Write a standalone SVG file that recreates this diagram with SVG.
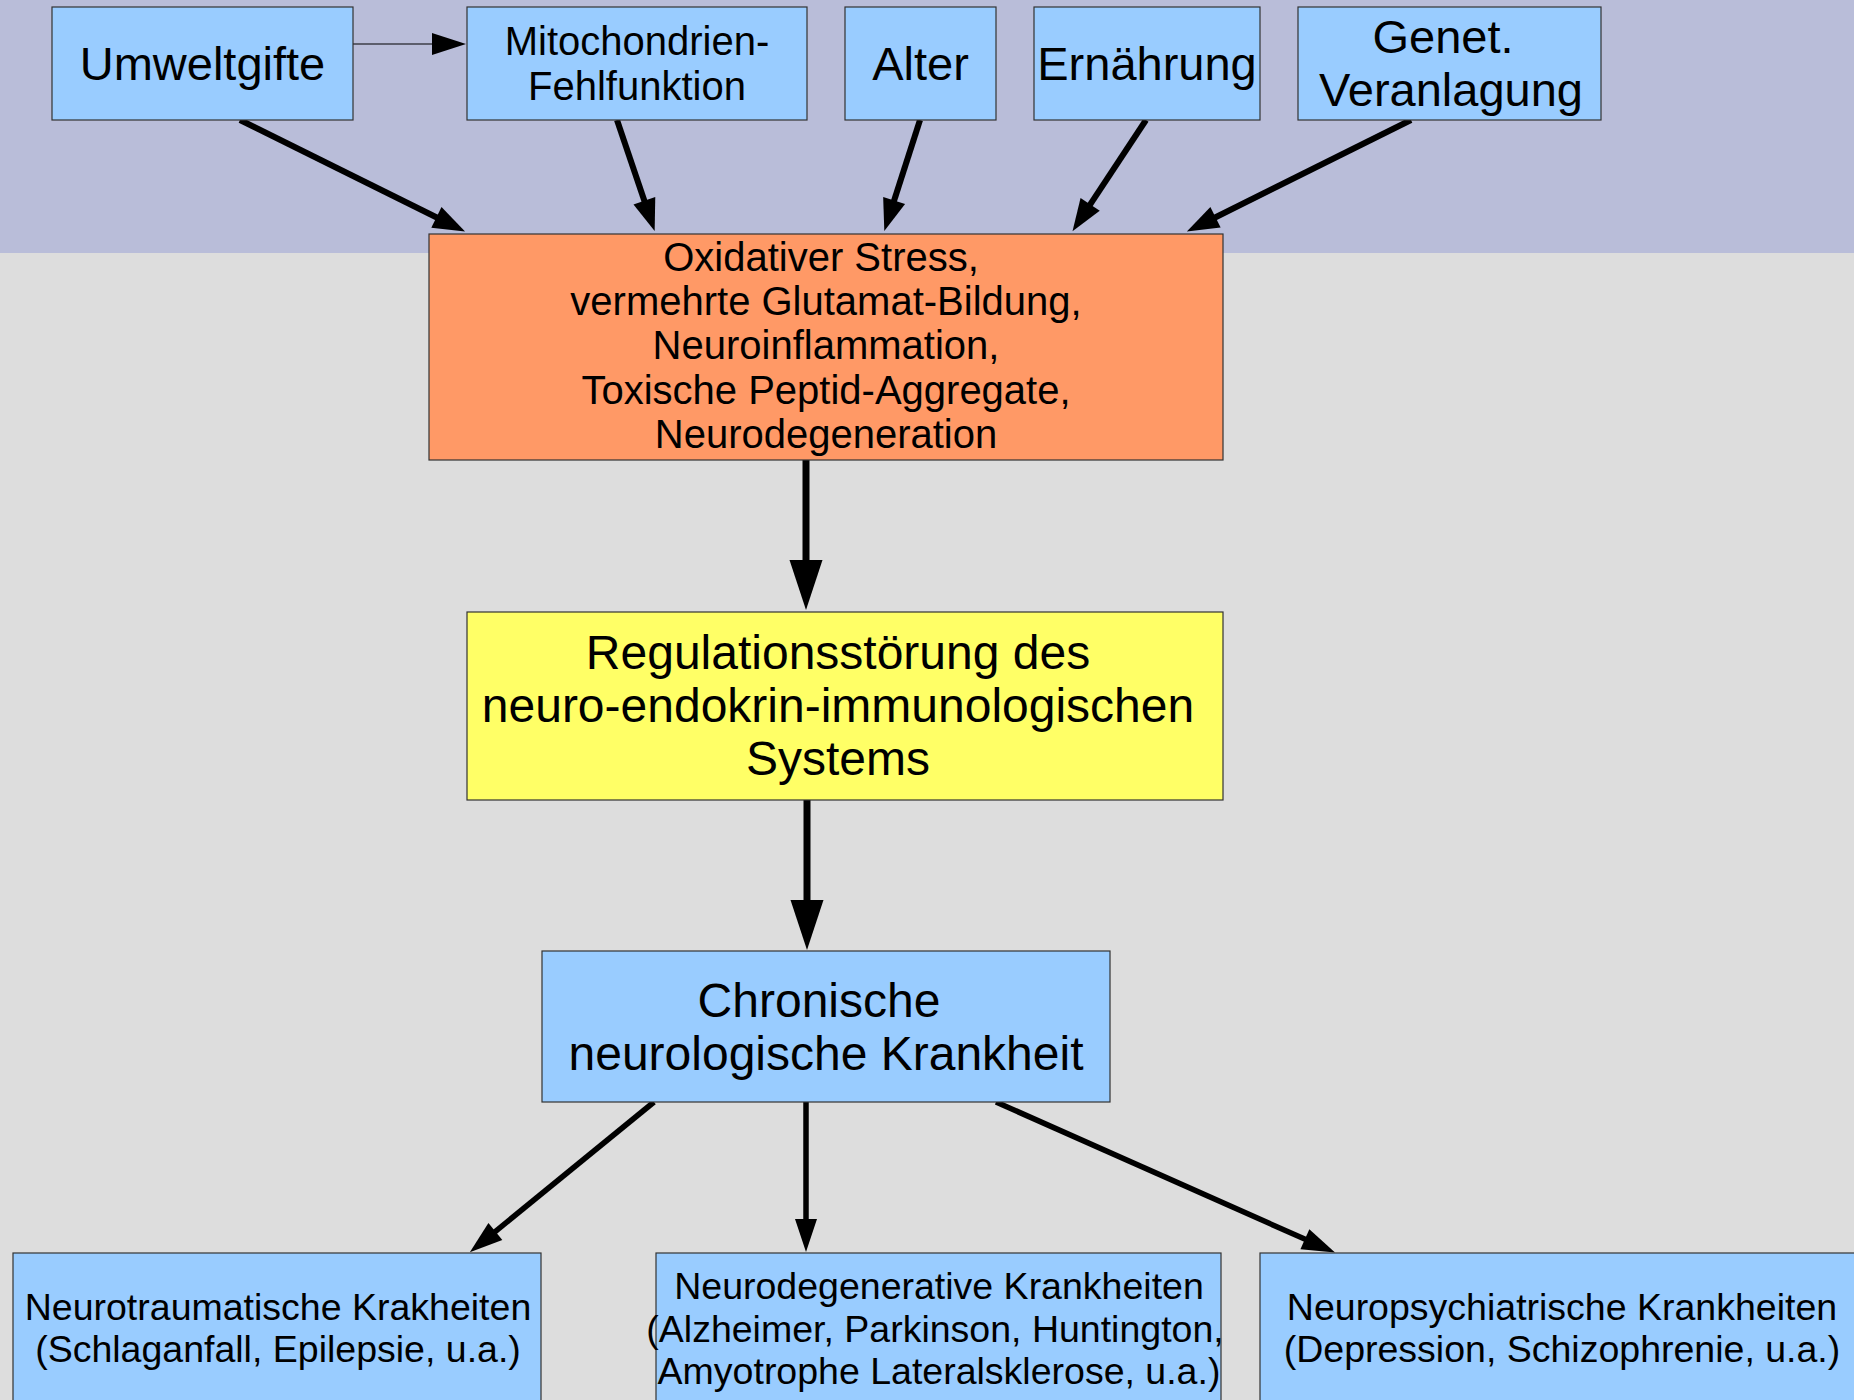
<svg xmlns="http://www.w3.org/2000/svg" width="1854" height="1400" viewBox="0 0 1854 1400">
<style>
.box{stroke:#333;stroke-width:1.2}
.blue{fill:#99ccff}
.orange{fill:#ff9966}
.yellow{fill:#ffff66}
text{font-family:"Liberation Sans",Arial,sans-serif;fill:#000;text-anchor:middle}
.conn{stroke:#000;fill:none}
</style>
<defs>
<marker id="mTop" markerUnits="userSpaceOnUse" markerWidth="34" markerHeight="24" refX="1" refY="11.5" orient="auto" overflow="visible"><path d="M0,0 L32,11.5 L0,23 z" fill="#000"/></marker>
<marker id="mBig" markerUnits="userSpaceOnUse" markerWidth="52" markerHeight="34" refX="1" refY="16.5" orient="auto" overflow="visible"><path d="M0,0 L50,16.5 L0,33 z" fill="#000"/></marker>
<marker id="mBot" markerUnits="userSpaceOnUse" markerWidth="35" markerHeight="23" refX="1" refY="11" orient="auto" overflow="visible"><path d="M0,0 L33,11 L0,22 z" fill="#000"/></marker>
<marker id="mThin" markerUnits="userSpaceOnUse" markerWidth="36" markerHeight="23" refX="1" refY="11" orient="auto" overflow="visible"><path d="M0,0 L34,11 L0,22 z" fill="#000"/></marker>
</defs>
<rect x="0" y="0" width="1854" height="1400" fill="#dddddd"/>
<rect x="0" y="0" width="1854" height="253" fill="#b9bdd9"/>

<g id="connectors">
<path class="conn" d="M353,44 L433,44" stroke="#333" stroke-width="1.2" marker-end="url(#mThin)"/>
<path class="conn" d="M240,120 L437.3,217.8" stroke-width="6" marker-end="url(#mTop)"/>
<path class="conn" d="M617,120 L644.7,201.7" stroke-width="6" marker-end="url(#mTop)"/>
<path class="conn" d="M920,120 L893.8,201.5" stroke-width="6" marker-end="url(#mTop)"/>
<path class="conn" d="M1146,120 L1089.6,205.3" stroke-width="6" marker-end="url(#mTop)"/>
<path class="conn" d="M1411,120 L1214.6,217.7" stroke-width="6" marker-end="url(#mTop)"/>
<path class="conn" d="M806,460 L806,561" stroke-width="7" marker-end="url(#mBig)"/>
<path class="conn" d="M807,800 L807,901" stroke-width="7" marker-end="url(#mBig)"/>
<path class="conn" d="M654,1102 L494.6,1232.1" stroke-width="5.5" marker-end="url(#mBot)"/>
<path class="conn" d="M806,1102 L806,1220" stroke-width="5.5" marker-end="url(#mBot)"/>
<path class="conn" d="M996,1102 L1305.8,1239.6" stroke-width="5.5" marker-end="url(#mBot)"/>
</g>

<g id="umweltgifte">
<rect class="box blue" x="52" y="7" width="301" height="113"/>
<text x="202.5" y="80" font-size="47">Umweltgifte</text>
</g>
<g id="mitochondrien">
<rect class="box blue" x="467" y="7" width="340" height="113"/>
<text font-size="40"><tspan x="637" y="55">Mitochondrien-</tspan><tspan x="637" y="100">Fehlfunktion</tspan></text>
</g>
<g id="alter">
<rect class="box blue" x="845" y="7" width="151" height="113"/>
<text x="920.5" y="80" font-size="47">Alter</text>
</g>
<g id="ernaehrung">
<rect class="box blue" x="1034" y="7" width="226" height="113"/>
<text x="1147" y="80" font-size="47">Ernährung</text>
</g>
<g id="genet">
<rect class="box blue" x="1298" y="7" width="303" height="113"/>
<text font-size="47"><tspan x="1443" y="53">Genet.</tspan><tspan x="1451" y="106">Veranlagung</tspan></text>
</g>

<g id="stress">
<rect class="box orange" x="429" y="234" width="794" height="226"/>
<text font-size="40"><tspan x="821" y="271">Oxidativer Stress,</tspan><tspan x="826" y="315">vermehrte Glutamat-Bildung,</tspan><tspan x="826" y="359">Neuroinflammation,</tspan><tspan x="826" y="404">Toxische Peptid-Aggregate,</tspan><tspan x="826" y="448">Neurodegeneration</tspan></text>
</g>

<g id="regulation">
<rect class="box yellow" x="467" y="612" width="756" height="188"/>
<text font-size="48"><tspan x="838" y="669">Regulationsstörung des</tspan><tspan x="838" y="722">neuro-endokrin-immunologischen</tspan><tspan x="838" y="775">Systems</tspan></text>
</g>

<g id="chronisch">
<rect class="box blue" x="542" y="951" width="568" height="151"/>
<text font-size="48"><tspan x="819" y="1017">Chronische</tspan><tspan x="826" y="1070">neurologische Krankheit</tspan></text>
</g>

<g id="neurotrauma">
<rect class="box blue" x="13" y="1253" width="528" height="160"/>
<text font-size="37.5"><tspan x="278" y="1320">Neurotraumatische Krakheiten</tspan><tspan x="278" y="1362">(Schlaganfall, Epilepsie, u.a.)</tspan></text>
</g>
<g id="neurodegen">
<rect class="box blue" x="656" y="1253" width="565" height="160"/>
<text font-size="37.5"><tspan x="939" y="1299">Neurodegenerative Krankheiten</tspan><tspan x="935" y="1342">(Alzheimer, Parkinson, Huntington,</tspan><tspan x="939" y="1384">Amyotrophe Lateralsklerose, u.a.)</tspan></text>
</g>
<g id="neuropsych">
<rect class="box blue" x="1260" y="1253" width="610" height="160"/>
<text font-size="37.5"><tspan x="1562" y="1320">Neuropsychiatrische Krankheiten</tspan><tspan x="1562" y="1362">(Depression, Schizophrenie, u.a.)</tspan></text>
</g>
</svg>
